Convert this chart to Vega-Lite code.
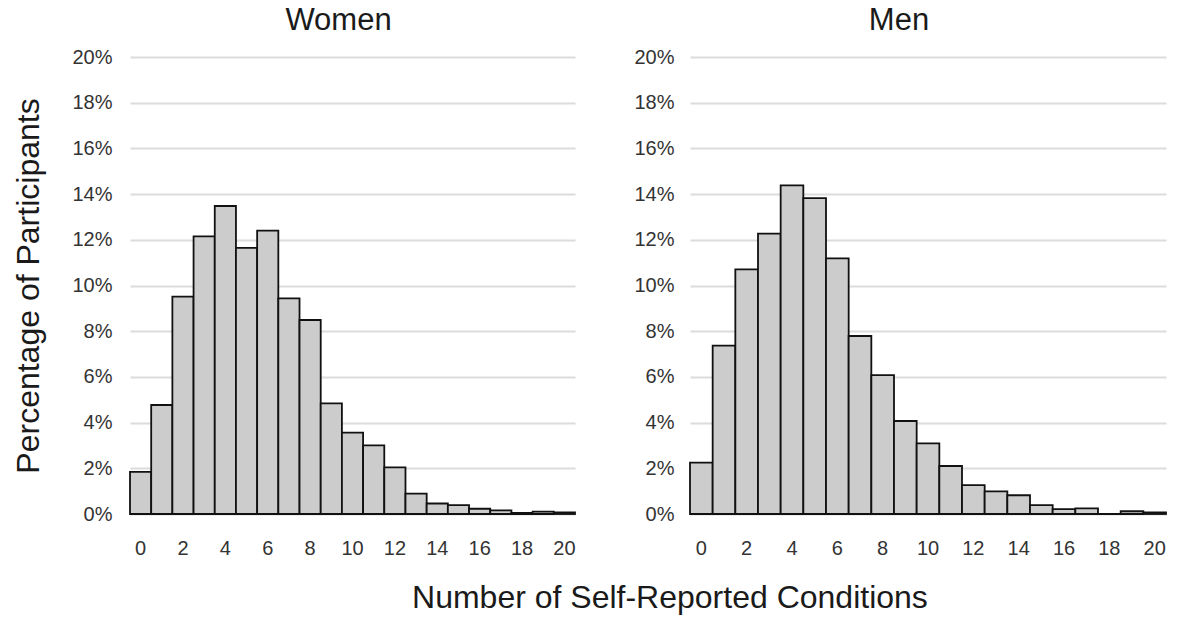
{
  "$schema": "https://vega.github.io/schema/vega-lite/v6.json",
  "background": "white",
  "padding": {"left": 12, "top": 5, "right": 10, "bottom": 4},
  "config": {
    "font": "Liberation Sans",
    "view": {"stroke": null},
    "concat": {"spacing": 57},
    "axis": {"labelFont": "Liberation Sans", "titleFont": "Liberation Sans", "labelColor": "#333333", "titleColor": "#1a1a1a", "titleFontWeight": "normal"},
    "title": {"font": "Liberation Sans", "fontWeight": "normal", "color": "#1a1a1a"}
  },
  "title": {"text": "Number of Self-Reported Conditions", "orient": "bottom", "anchor": "middle", "fontSize": 32, "offset": 25, "dx": 80},
  "datasets": {
    "h": [
      {"sex": "Women", "n": 0, "pct": 1.84},
      {"sex": "Women", "n": 1, "pct": 4.77},
      {"sex": "Women", "n": 2, "pct": 9.51},
      {"sex": "Women", "n": 3, "pct": 12.15},
      {"sex": "Women", "n": 4, "pct": 13.48},
      {"sex": "Women", "n": 5, "pct": 11.65},
      {"sex": "Women", "n": 6, "pct": 12.4},
      {"sex": "Women", "n": 7, "pct": 9.44},
      {"sex": "Women", "n": 8, "pct": 8.49},
      {"sex": "Women", "n": 9, "pct": 4.84},
      {"sex": "Women", "n": 10, "pct": 3.56},
      {"sex": "Women", "n": 11, "pct": 3.0},
      {"sex": "Women", "n": 12, "pct": 2.04},
      {"sex": "Women", "n": 13, "pct": 0.89},
      {"sex": "Women", "n": 14, "pct": 0.46},
      {"sex": "Women", "n": 15, "pct": 0.39},
      {"sex": "Women", "n": 16, "pct": 0.23},
      {"sex": "Women", "n": 17, "pct": 0.16},
      {"sex": "Women", "n": 18, "pct": 0.05},
      {"sex": "Women", "n": 19, "pct": 0.1},
      {"sex": "Women", "n": 20, "pct": 0.07},
      {"sex": "Men", "n": 0, "pct": 2.25},
      {"sex": "Men", "n": 1, "pct": 7.37},
      {"sex": "Men", "n": 2, "pct": 10.71},
      {"sex": "Men", "n": 3, "pct": 12.27},
      {"sex": "Men", "n": 4, "pct": 14.38},
      {"sex": "Men", "n": 5, "pct": 13.82},
      {"sex": "Men", "n": 6, "pct": 11.19},
      {"sex": "Men", "n": 7, "pct": 7.79},
      {"sex": "Men", "n": 8, "pct": 6.08},
      {"sex": "Men", "n": 9, "pct": 4.07},
      {"sex": "Men", "n": 10, "pct": 3.09},
      {"sex": "Men", "n": 11, "pct": 2.1},
      {"sex": "Men", "n": 12, "pct": 1.26},
      {"sex": "Men", "n": 13, "pct": 0.99},
      {"sex": "Men", "n": 14, "pct": 0.82},
      {"sex": "Men", "n": 15, "pct": 0.39},
      {"sex": "Men", "n": 16, "pct": 0.21},
      {"sex": "Men", "n": 17, "pct": 0.25},
      {"sex": "Men", "n": 18, "pct": 0},
      {"sex": "Men", "n": 19, "pct": 0.12},
      {"sex": "Men", "n": 20, "pct": 0.07}
    ]
  },
  "hconcat": [
    {
      "data": {"name": "h"},
      "transform": [{"filter": "datum.sex === 'Women'"}],
      "title": {"text": "Women", "fontSize": 31, "anchor": "middle", "offset": 10, "dx": -14},
      "width": 445,
      "height": 457,
      "mark": {"type": "bar", "fill": "#cccccc", "stroke": "#111111", "strokeWidth": 1.8},
      "encoding": {
        "x": {"field": "n", "type": "ordinal", "sort": "ascending",
          "scale": {"paddingInner": 0, "paddingOuter": 0},
          "axis": {"title": null, "labelAngle": 0, "values": [0,2,4,6,8,10,12,14,16,18,20], "domain": false, "ticks": false, "labelPadding": 24, "labelFontSize": 20}},
        "y": {"field": "pct", "type": "quantitative",
          "scale": {"domain": [0, 20], "nice": false},
          "axis": {"title": "Percentage of Participants", "titleFontSize": 32, "titlePadding": 26, "values": [0,2,4,6,8,10,12,14,16,18,20], "labelExpr": "datum.value + '%'", "domain": false, "ticks": false, "labelPadding": 18, "labelFontSize": 20, "gridColor": "#dcdcdc", "gridWidth": 2}}
      }
    },
    {
      "data": {"name": "h"},
      "transform": [{"filter": "datum.sex === 'Men'"}],
      "title": {"text": "Men", "fontSize": 31, "anchor": "middle", "offset": 10, "dx": -29},
      "width": 476,
      "height": 457,
      "mark": {"type": "bar", "fill": "#cccccc", "stroke": "#111111", "strokeWidth": 1.8},
      "encoding": {
        "x": {"field": "n", "type": "ordinal", "sort": "ascending",
          "scale": {"paddingInner": 0, "paddingOuter": 0},
          "axis": {"title": null, "labelAngle": 0, "values": [0,2,4,6,8,10,12,14,16,18,20], "domain": false, "ticks": false, "labelPadding": 24, "labelFontSize": 20}},
        "y": {"field": "pct", "type": "quantitative",
          "scale": {"domain": [0, 20], "nice": false},
          "axis": {"title": null, "values": [0,2,4,6,8,10,12,14,16,18,20], "labelExpr": "datum.value + '%'", "domain": false, "ticks": false, "labelPadding": 16, "labelFontSize": 20, "gridColor": "#dcdcdc", "gridWidth": 2}}
      }
    }
  ]
}
